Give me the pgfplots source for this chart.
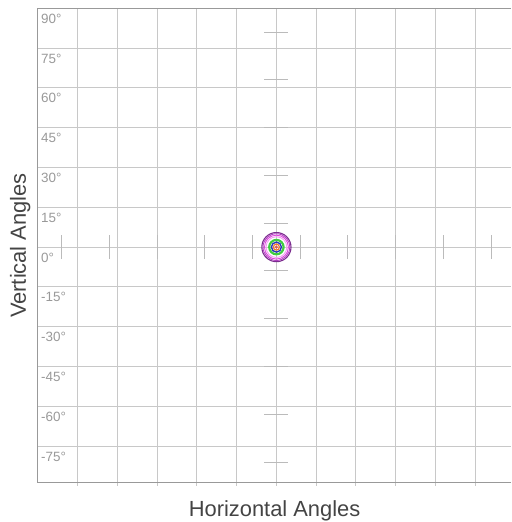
\documentclass[border=0pt]{standalone}
\usepackage{pgfplots}
\pgfplotsset{compat=1.18}
\usepackage{fontspec}
\setmainfont{Liberation Sans}
\definecolor{gridc}{HTML}{C8C8C8}
\definecolor{axc}{HTML}{999999}
\definecolor{lblc}{HTML}{999999}
\definecolor{ttlc}{HTML}{444444}
\definecolor{crossc}{HTML}{BBBBBB}
\definecolor{rA}{HTML}{7B2D8E}
\definecolor{rB}{HTML}{B040C0}
\definecolor{rC}{HTML}{E040E0}
\definecolor{rD}{HTML}{F0A0F0}
\definecolor{rE}{HTML}{40CC40}
\definecolor{rF}{HTML}{2838B8}
\definecolor{rG}{HTML}{F07828}
\definecolor{rH}{HTML}{E05858}
\begin{document}
\begin{tikzpicture}
\begin{axis}[
  x=2.653bp, y=2.657bp,
  xmin=-90, xmax=88.6, ymin=-88.8, ymax=90,
  axis x line=box, axis y line=left,
  axis line style={draw=axc, line width=1bp, -},
  xtick={-75,-60,...,75}, ytick={-75,-60,...,90},
  xticklabels={}, yticklabels={},
  grid=major, major grid style={draw=gridc, line width=1bp},
  tick align=outside, major tick length=3bp,
  xtick pos=left,
  xtick style={draw=gridc, line width=1bp},
  ytick style={draw=none},
  unbounded coords=jump,
  clip=false,
]
\coordinate (sw) at (rel axis cs:0,0);
\coordinate (ne) at (rel axis cs:1,1);
% crosshair ticks
\addplot[draw=crossc, line width=1bp] table[row sep=\\] {
x y\\
-4.5 81\\ 4.5 81\\ nan nan\\
-4.5 63\\ 4.5 63\\ nan nan\\
-4.5 45\\ 4.5 45\\ nan nan\\
-4.5 27\\ 4.5 27\\ nan nan\\
-4.5 9\\ 4.5 9\\ nan nan\\
-4.5 -9\\ 4.5 -9\\ nan nan\\
-4.5 -27\\ 4.5 -27\\ nan nan\\
-4.5 -45\\ 4.5 -45\\ nan nan\\
-4.5 -63\\ 4.5 -63\\ nan nan\\
-4.5 -81\\ 4.5 -81\\ nan nan\\
-81 -4.5\\ -81 4.5\\ nan nan\\
-63 -4.5\\ -63 4.5\\ nan nan\\
-45 -4.5\\ -45 4.5\\ nan nan\\
-27 -4.5\\ -27 4.5\\ nan nan\\
-9 -4.5\\ -9 4.5\\ nan nan\\
9 -4.5\\ 9 4.5\\ nan nan\\
27 -4.5\\ 27 4.5\\ nan nan\\
45 -4.5\\ 45 4.5\\ nan nan\\
63 -4.5\\ 63 4.5\\ nan nan\\
81 -4.5\\ 81 4.5\\
};
% concentric rings at the centre
\addplot[only marks, mark=o, mark size=14.6bp, mark options={draw=rA, line width=1.1bp}] coordinates {(0,0)};
\addplot[only marks, mark=o, mark size=13.4bp, mark options={draw=rB, line width=0.9bp}] coordinates {(0,0)};
\addplot[only marks, mark=o, mark size=12.0bp, mark options={draw=rC, line width=0.9bp}] coordinates {(0,0)};
\addplot[only marks, mark=o, mark size=10.4bp, mark options={draw=rD, line width=0.9bp}] coordinates {(0,0)};
\addplot[only marks, mark=o, mark size=7.2bp, mark options={draw=rE, line width=2.2bp}] coordinates {(0,0)};
\addplot[only marks, mark=o, mark size=5.0bp, mark options={draw=rF, line width=1.4bp}] coordinates {(0,0)};
\addplot[only marks, mark=o, mark size=3.0bp, mark options={draw=rG, line width=1.2bp}] coordinates {(0,0)};
\addplot[only marks, mark=*, mark size=1.3bp, mark options={draw=rH, fill=rH}] coordinates {(0,0)};
% vertical-angle labels inside the frame
\begin{scope}[every node/.style={anchor=north west, inner sep=0pt, xshift=3bp, yshift=-5.5bp, text=lblc, font=\fontsize{13.5}{14}\selectfont}]
\node at (axis cs:-90,90) {90°};
\node at (axis cs:-90,75) {75°};
\node at (axis cs:-90,60) {60°};
\node at (axis cs:-90,45) {45°};
\node at (axis cs:-90,30) {30°};
\node at (axis cs:-90,15) {15°};
\node at (axis cs:-90,0) {0°};
\node at (axis cs:-90,-15) {-15°};
\node at (axis cs:-90,-30) {-30°};
\node at (axis cs:-90,-45) {-45°};
\node at (axis cs:-90,-60) {-60°};
\node at (axis cs:-90,-75) {-75°};
\end{scope}
\node[anchor=base, text=ttlc, font=\fontsize{22}{24}\selectfont, yshift=-33.3bp] at (rel axis cs:0.5,0) {Horizontal Angles};
\node[anchor=base, rotate=90, text=ttlc, font=\fontsize{22}{24}\selectfont] at ([xshift=-12bp]rel axis cs:0,0.5) {Vertical Angles};
\end{axis}
\pgfresetboundingbox
\path ([shift={(-38bp,-39.3bp)}]sw) rectangle ([shift={(0bp,8.3bp)}]ne);
\end{tikzpicture}
\end{document}
